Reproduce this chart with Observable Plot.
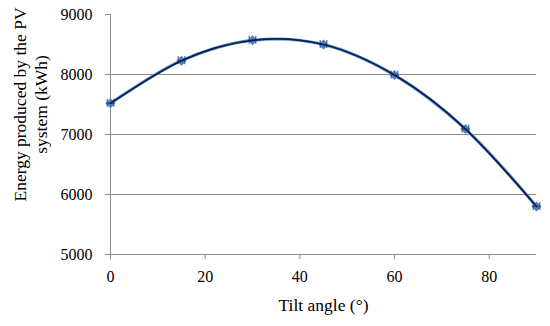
<!DOCTYPE html>
<html><head><meta charset="utf-8">
<script src="https://cdn.jsdelivr.net/npm/d3@7"></script>
<script src="https://cdn.jsdelivr.net/npm/@observablehq/plot@0.6"></script>
<style>body{margin:0;background:#fff}</style>
</head><body><div id="chart"></div>
<script>
const tiltAngles = [0, 15, 30, 45, 60, 75, 90];
const energy = [7520, 8230, 8570, 8500, 7990, 7090, 5800];
const xErr = [0.7, 0.7, 0.7, 0.7, 0.7, 0.7, 0.7];
const xTicks = [0, 20, 40, 60, 80];
const yTicks = [5000, 6000, 7000, 8000, 9000];
const yGrid = [6000, 7000, 8000];
const yLabelLines = ["Energy produced by the PV", "system (kWh)"];
const xLabel = "Tilt angle (°)";

const data = tiltAngles.map((a, i) => ({a, e: energy[i], lo: a - xErr[i], hi: a + xErr[i]}));
const font = "'Liberation Serif', 'DejaVu Serif', serif";

const chart = Plot.plot({
  width: 550, height: 326,
  marginLeft: 110, marginRight: 14, marginTop: 14, marginBottom: 72,
  style: {fontFamily: font, fontSize: "16px", color: "#000", background: "#fff"},
  x: {type: "linear", domain: [0, 90]},
  y: {type: "linear", domain: [5000, 9000]},
  marks: [
    Plot.gridY(yGrid, {stroke: "#8c8c8c", strokeOpacity: 1, strokeWidth: 1}),
    Plot.ruleX([0], {stroke: "#8c8c8c"}),
    Plot.ruleY([5000], {stroke: "#8c8c8c"}),
    Plot.axisY(yTicks, {tickSize: 5, tickPadding: 13, stroke: "#8c8c8c", fill: "#000", label: null, fontSize: 16, tickFormat: d => String(d)}),
    Plot.axisX(xTicks, {tickSize: 5, tickPadding: 11, stroke: "#8c8c8c", fill: "#000", label: null, fontSize: 16, tickFormat: d => String(d)}),
    Plot.text([xLabel], {x: null, y: null, text: d => d, frameAnchor: "bottom", lineAnchor: "middle", textAnchor: "middle", dy: 51, fill: "#000", fontSize: 17.5}),
    Plot.text([yLabelLines[0]], {x: null, y: null, text: d => d, frameAnchor: "left", textAnchor: "middle", lineAnchor: "middle", rotate: -90, dx: -90, dy: -30, fill: "#000", fontSize: 17.5}),
    Plot.text([yLabelLines[1]], {x: null, y: null, text: d => d, frameAnchor: "left", textAnchor: "middle", lineAnchor: "middle", rotate: -90, dx: -69, dy: -30, fill: "#000", fontSize: 17.5}),
    Plot.line(data, {x: "a", y: "e", curve: "catmull-rom", stroke: "#5b8fd6", strokeWidth: 3}),
    Plot.dot(data, {x: "a", y: "e", symbol: "diamond2", r: 4.5, fill: "#4a7cc7", stroke: "none"}),
    Plot.ruleY(data, {y: "e", x1: "lo", x2: "hi", stroke: "#33477a", strokeWidth: 1}),
    Plot.ruleX(data, {x: "lo", y1: "e", y2: "e", insetTop: -4, insetBottom: -4, stroke: "#33477a", strokeWidth: 1}),
    Plot.ruleX(data, {x: "hi", y1: "e", y2: "e", insetTop: -4, insetBottom: -4, stroke: "#33477a", strokeWidth: 1}),
    Plot.line(data, {x: "a", y: "e", curve: "natural", stroke: "#0d1f4d", strokeWidth: 1.8})
  ]
});
document.getElementById("chart").append(chart);
</script>
</body></html>
